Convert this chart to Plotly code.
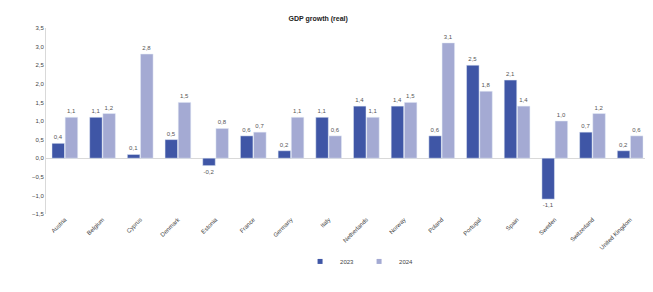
import plotly.graph_objects as go

countries = ["Austria", "Belgium", "Cyprus", "Denmark", "Estonia", "France",
             "Germany", "Italy", "Netherlands", "Norway", "Poland", "Portugal",
             "Spain", "Sweden", "Switzerland", "United Kingdom"]
g2023 = [0.4, 1.1, 0.1, 0.5, -0.2, 0.6, 0.2, 1.1, 1.4, 1.4, 0.6, 2.5, 2.1, -1.1, 0.7, 0.2]
g2024 = [1.1, 1.2, 2.8, 1.5, 0.8, 0.7, 1.1, 0.6, 1.1, 1.5, 3.1, 1.8, 1.4, 1.0, 1.2, 0.6]
tick_vals = [-1.5, -1.0, -0.5, 0.0, 0.5, 1.0, 1.5, 2.0, 2.5, 3.0, 3.5]
series = [("2023", g2023, "#3F56A6"), ("2024", g2024, "#A4AAD3")]

fig = go.Figure()
for name, vals, col in series:
    fig.add_bar(x=countries, y=vals, name=name, marker_color=col,
                texttemplate="%{y:.1f}", textposition="outside",
                textfont=dict(size=6, color="#555555"), cliponaxis=False,
                showlegend=False)
for name, vals, col in series:
    fig.add_scatter(x=[None], y=[None], mode="markers", name=name,
                    marker=dict(symbol="square", size=5, color=col))

fig.update_layout(
    width=653, height=292,
    margin=dict(l=38, r=12, t=20, b=86, autoexpand=False),
    paper_bgcolor="white", plot_bgcolor="white",
    separators=", ",
    font=dict(family="Liberation Sans, Arial, sans-serif", size=6, color="#444444"),
    title=dict(text="<b>GDP growth (real)</b>", x=0.475, xanchor="center", y=0.965,
               yanchor="middle", font=dict(size=7, color="#222222")),
    barmode="group", bargap=0.3, bargroupgap=0.05,
    showlegend=True,
    legend=dict(orientation="h", x=0.52, xanchor="center", y=-0.255, yanchor="middle",
                font=dict(size=6), itemwidth=30,
                traceorder="normal", tracegroupgap=0, bgcolor="rgba(0,0,0,0)"),
    uniformtext=dict(minsize=5, mode="show"),
)
fig.update_xaxes(tickangle=-45, tickfont=dict(size=6, color="#444444"),
                 showline=False, ticks="", showgrid=False, automargin=False)
fig.update_yaxes(range=[-1.5, 3.5], tickvals=tick_vals, tickformat=".1f",
                 tickfont=dict(size=6, color="#444444"), showgrid=False,
                 showline=True, linecolor="#D9D9D9", linewidth=1,
                 zeroline=True, zerolinecolor="#D9D9D9", zerolinewidth=1,
                 automargin=False)

fig.write_html("out.html")
